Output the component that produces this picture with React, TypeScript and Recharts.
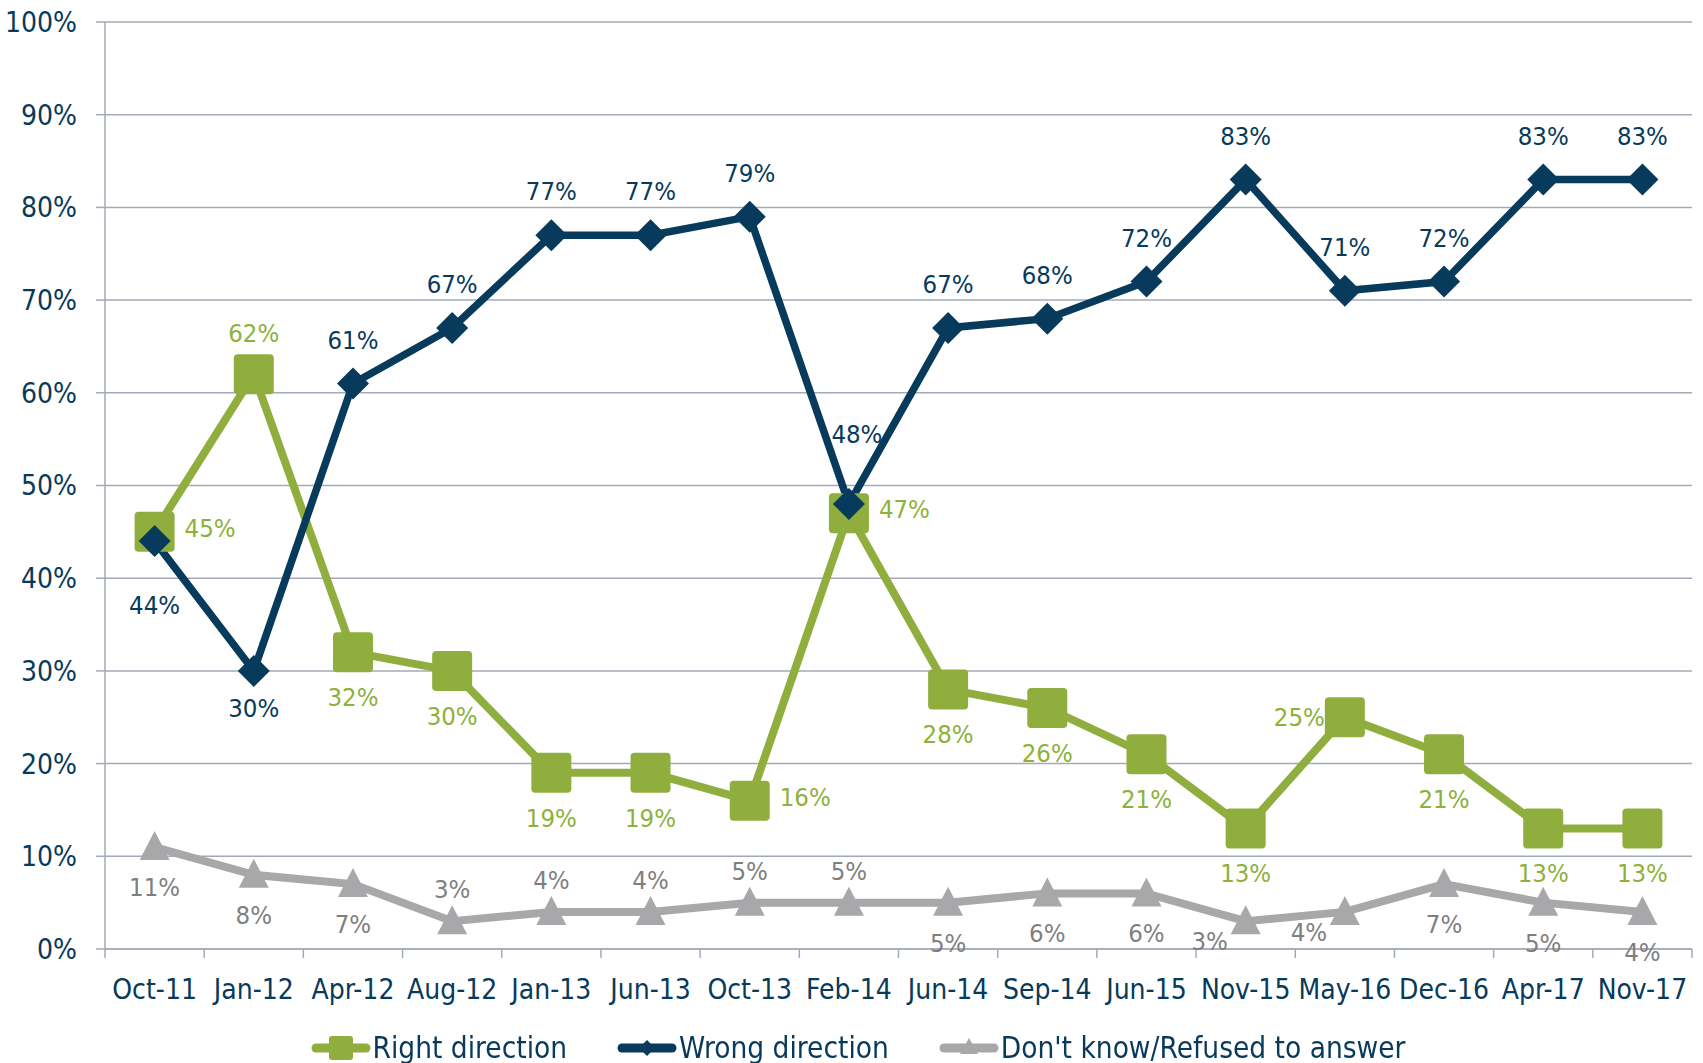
import React from 'react'
import { LineChart, Line, XAxis, YAxis, CartesianGrid, Legend } from 'recharts'

const MONTHS = ['Oct-11', 'Jan-12', 'Apr-12', 'Aug-12', 'Jan-13', 'Jun-13', 'Oct-13', 'Feb-14', 'Jun-14', 'Sep-14', 'Jun-15', 'Nov-15', 'May-16', 'Dec-16', 'Apr-17', 'Nov-17']
const RIGHT = [45, 62, 32, 30, 19, 19, 16, 47, 28, 26, 21, 13, 25, 21, 13, 13]
const WRONG = [44, 30, 61, 67, 77, 77, 79, 48, 67, 68, 72, 83, 71, 72, 83, 83]
const DONT_KNOW = [11, 8, 7, 3, 4, 4, 5, 5, 5, 6, 6, 3, 4, 7, 5, 4]
const Y_TICKS = [0, 10, 20, 30, 40, 50, 60, 70, 80, 90, 100]

// where each value label sits relative to its point
const RIGHT_POS = ['right', 'top', 'bottom', 'bottom', 'bottom', 'bottom', 'right', 'right', 'bottom', 'bottom', 'bottom', 'bottom', 'left', 'bottom', 'bottom', 'bottom']
const WRONG_POS = ['bottomFar', 'bottom', 'top', 'top', 'top', 'top', 'top', 'topFar', 'top', 'top', 'top', 'top', 'top', 'top', 'top', 'top']
const DK_POS = ['bottom', 'bottom', 'bottom', 'top', 'top', 'top', 'top', 'top', 'bottom', 'bottom', 'bottom', 'bottomLeft', 'bottomLeft', 'bottom', 'bottom', 'bottom']

const NAVY = '#073a5b'
const GREEN = '#8fae3e'
const GREEN_TEXT = '#8db13a'
const GREY = '#a8a8aa'
const GREY_TEXT = '#7f7f7f'
const GRID = '#a3aab7'
const FONT = "'DejaVu Sans Condensed', 'DejaVu Sans', sans-serif"

const W = 1703
const H = 1063
const PLOT_LEFT = 105
const PLOT_RIGHT = 1692
const HALF_BAND = (PLOT_RIGHT - PLOT_LEFT) / MONTHS.length / 2

const data = MONTHS.map((m, i) => ({
  month: m,
  right: RIGHT[i],
  wrong: WRONG[i],
  dk: DONT_KNOW[i],
}))

function makeLabel(color: string, positions: string[], near: number, far: number) {
  return (props: any) => {
    const { x, y, value, index } = props
    const pos = positions[index]
    let dx = 0
    let dy = 0
    let anchor: 'start' | 'middle' | 'end' = 'middle'
    if (pos === 'top') dy = -near
    else if (pos === 'topFar') { dy = -70; dx = 8 }
    else if (pos === 'bottom') dy = far
    else if (pos === 'bottomFar') dy = 64
    else if (pos === 'right') { dx = 30; dy = -4; anchor = 'start' }
    else if (pos === 'left') { dx = -20; dy = 0; anchor = 'end' }
    else if (pos === 'bottomLeft') { dx = -36; dy = 20 }
    return (
      <text
        key={`lbl-${index}`}
        x={x + dx}
        y={y + dy}
        fill={color}
        fontSize={25.5}
        fontFamily={FONT}
        style={{ fontStretch: 'condensed' }}
        textAnchor={anchor}
        dominantBaseline="central"
      >
        {value}%
      </text>
    )
  }
}

const squareDot = (p: any) => (
  <rect key={`sq-${p.index}`} x={p.cx - 20} y={p.cy - 20} width={40} height={40} rx={4} fill={GREEN} />
)

const diamondDot = (p: any) => (
  <path
    key={`dm-${p.index}`}
    d={`M${p.cx},${p.cy - 16} L${p.cx + 16},${p.cy} L${p.cx},${p.cy + 16} L${p.cx - 16},${p.cy} Z`}
    fill={NAVY}
  />
)

const triangleDot = (p: any) => (
  <path
    key={`tr-${p.index}`}
    d={`M${p.cx},${p.cy - 16} L${p.cx + 15},${p.cy + 13} L${p.cx - 15},${p.cy + 13} Z`}
    fill={GREY}
  />
)

function MonthTick(props: any) {
  const { x, y, payload, index } = props
  const last = index === MONTHS.length - 1
  return (
    <g>
      <line x1={x - HALF_BAND} x2={x - HALF_BAND} y1={y} y2={y + 9} stroke={GRID} strokeWidth={1.5} />
      {last && <line x1={x + HALF_BAND} x2={x + HALF_BAND} y1={y} y2={y + 9} stroke={GRID} strokeWidth={1.5} />}
      <text x={x} y={y + 50} textAnchor="middle" fill={NAVY} fontSize={28} fontFamily={FONT} style={{ fontStretch: 'condensed' }}>
        {payload.value}
      </text>
    </g>
  )
}

const LEGEND_ITEMS = [
  { name: 'Right direction', color: GREEN, kind: 'square' },
  { name: 'Wrong direction', color: NAVY, kind: 'diamond' },
  { name: "Don't know/Refused to answer", color: GREY, kind: 'triangle' },
]

function LegendIcon({ color, kind }: { color: string; kind: string }) {
  return (
    <svg width={60} height={30}>
      <line x1={5} x2={55} y1={15} y2={15} stroke={color} strokeWidth={9} strokeLinecap="round" />
      {kind === 'square' && <rect x={18} y={3} width={24} height={24} rx={3} fill={color} />}
      {kind === 'diamond' && <path d="M30,7 L38,15 L30,23 L22,15 Z" fill={color} />}
      {kind === 'triangle' && <path d="M30,5 L39,21 L21,21 Z" fill={color} />}
    </svg>
  )
}

function LegendContent() {
  return (
    <div
      style={{
        display: 'flex',
        justifyContent: 'center',
        alignItems: 'center',
        height: 30,
        gap: 50,
        paddingLeft: 24,
        fontSize: 29.5,
        color: NAVY,
        fontFamily: FONT,
        fontStretch: 'condensed',
      }}
    >
      {LEGEND_ITEMS.map((it) => (
        <div key={it.name} style={{ display: 'flex', alignItems: 'center', whiteSpace: 'nowrap' }}>
          <LegendIcon color={it.color} kind={it.kind} />
          <span style={{ marginLeft: 2, lineHeight: '30px' }}>{it.name}</span>
        </div>
      ))}
    </div>
  )
}

export default function App() {
  return (
    <div style={{ position: 'fixed', left: 0, top: 0, width: W, height: H, background: '#fff' }}>
      <LineChart width={W} height={H} data={data} margin={{ top: 22, right: W - PLOT_RIGHT, left: 0, bottom: 0 }}>
        <CartesianGrid vertical={false} stroke={GRID} strokeWidth={1.5} />
        <XAxis
          dataKey="month"
          scale="band"
          interval={0}
          height={84}
          tickLine={false}
          tickSize={0}
          tickMargin={0}
          axisLine={{ stroke: GRID, strokeWidth: 1.5 }}
          tick={<MonthTick />}
        />
        <YAxis
          domain={[0, 100]}
          ticks={Y_TICKS}
          width={PLOT_LEFT}
          tickFormatter={(v) => `${v}%`}
          tickSize={9}
          tickMargin={19}
          tickLine={{ stroke: GRID, strokeWidth: 1.5 }}
          axisLine={{ stroke: GRID, strokeWidth: 1.5 }}
          tick={{ fill: NAVY, fontSize: 28, fontFamily: FONT, style: { fontStretch: 'condensed' } }}
        />
        <Legend verticalAlign="bottom" content={<LegendContent />} />
        <Line
          dataKey="dk"
          stroke={GREY}
          strokeWidth={8}
          dot={triangleDot}
          activeDot={false}
          isAnimationActive={false}
          label={makeLabel(GREY_TEXT, DK_POS, 32, 40)}
        />
        <Line
          dataKey="right"
          stroke={GREEN}
          strokeWidth={8}
          dot={squareDot}
          activeDot={false}
          isAnimationActive={false}
          label={makeLabel(GREEN_TEXT, RIGHT_POS, 41, 45)}
        />
        <Line
          dataKey="wrong"
          stroke={NAVY}
          strokeWidth={7.5}
          dot={diamondDot}
          activeDot={false}
          isAnimationActive={false}
          label={makeLabel(NAVY, WRONG_POS, 44, 37)}
        />
      </LineChart>
    </div>
  )
}
